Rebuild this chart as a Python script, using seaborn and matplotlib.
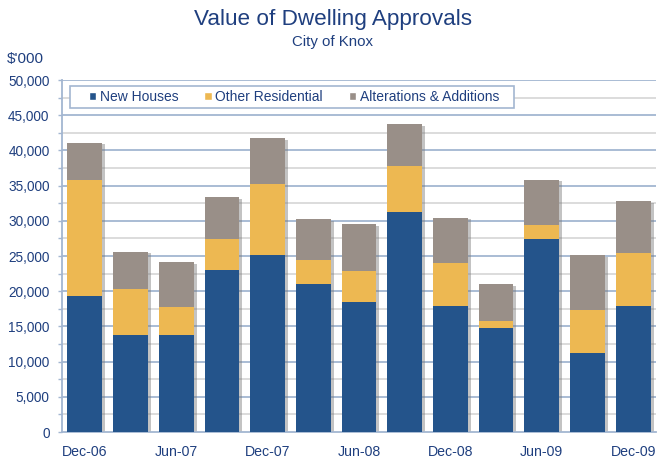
import numpy as np
import pandas as pd
import matplotlib
matplotlib.use("Agg")
import matplotlib.pyplot as plt
import matplotlib.patheffects as pe
from matplotlib.patches import Patch, Rectangle
import seaborn as sns

# Quarterly values, $'000
quarters = ["Dec-06", "Mar-07", "Jun-07", "Sep-07", "Dec-07", "Mar-08", "Jun-08",
            "Sep-08", "Dec-08", "Mar-09", "Jun-09", "Sep-09", "Dec-09"]
new_houses = [19350, 13800, 13800, 23050, 25200, 21050, 18400, 31250, 17850, 14800, 27450, 11200, 17950]
other_residential = [16500, 6500, 3950, 4350, 10000, 3450, 4500, 6550, 6150, 900, 2000, 6100, 7450]
alterations = [5250, 5300, 6400, 6000, 6550, 5750, 6600, 5950, 6450, 5300, 6400, 7800, 7400]
shown_labels = ["Dec-06", "Jun-07", "Dec-07", "Jun-08", "Dec-08", "Jun-09", "Dec-09"]

BLUE = "#24548B"
YELLOW = "#EDB852"
GREY = "#998F88"
TEXT = "#1F3F7F"
MAJOR_GRID = "#A3B6D1"
MINOR_GRID = "#D2D2D2"

df = pd.DataFrame({
    "quarter": quarters,
    "new": new_houses,
    "other": other_residential,
    "alt": alterations,
})
df["lvl2"] = df["new"] + df["other"]
df["total"] = df["lvl2"] + df["alt"]

sns.set_theme(style="white")
plt.rcParams["font.family"] = ["Liberation Sans", "DejaVu Sans"]

fig = plt.figure(figsize=(6.59, 4.58), dpi=100)
ax = fig.add_axes([62 / 659, 26 / 458, 594 / 659, 352 / 458])

# gridlines
for v in np.arange(2500, 50001, 2500):
    major = v % 5000 == 0
    ax.axhline(v, color=MAJOR_GRID if major else MINOR_GRID,
               lw=1.3 if major else 1.1, zorder=0)

# stacked bars drawn as cumulative layers
sns.barplot(data=df, x="quarter", y="total", color=GREY, saturation=1,
            width=0.76, linewidth=0, ax=ax, zorder=2)
shadow = [pe.SimplePatchShadow(offset=(2.2, -1.2), shadow_rgbFace="#7a7a7a", alpha=0.45),
          pe.Normal()]
for p in ax.patches:
    p.set_path_effects(shadow)
sns.barplot(data=df, x="quarter", y="lvl2", color=YELLOW, saturation=1,
            width=0.76, linewidth=0, ax=ax, zorder=3)
sns.barplot(data=df, x="quarter", y="new", color=BLUE, saturation=1,
            width=0.76, linewidth=0, ax=ax, zorder=4)

ax.set_ylim(0, 50000)
ax.set_xlim(-0.5, len(quarters) - 0.5)
ax.set_xlabel("")
ax.set_ylabel("")

ax.set_yticks(np.arange(0, 50001, 5000))
ax.set_yticklabels([f"{v:,}" for v in range(0, 50001, 5000)], fontsize=9.8, color=TEXT)
ax.set_yticks(np.arange(2500, 50000, 5000), minor=True)

pos = [quarters.index(q) for q in shown_labels]
ax.set_xticks(pos)
ax.set_xticklabels(shown_labels, fontsize=10.2, color=TEXT)
ax.set_xticks(np.arange(-0.5, len(quarters), 1.0), minor=True)
ax.tick_params(axis="x", which="major", length=0, pad=9)
ax.tick_params(axis="x", which="minor", length=4, color=MAJOR_GRID, width=1, direction="out")
ax.tick_params(axis="y", which="both", length=3, color=MAJOR_GRID, width=1, pad=6, left=True)

sns.despine(ax=ax, top=True, right=True)
for side in ["left", "bottom"]:
    ax.spines[side].set_color(MAJOR_GRID)
    ax.spines[side].set_linewidth(1.3)

# legend: white box with a thin border, entries centred inside
ax.add_patch(Rectangle((0.0135, 0.920), 0.7475, 0.063, transform=ax.transAxes,
                       facecolor="white", edgecolor=MAJOR_GRID, lw=1.2, zorder=9))
handles = [Patch(facecolor=BLUE, label="New Houses"),
           Patch(facecolor=YELLOW, label="Other Residential"),
           Patch(facecolor=GREY, label="Alterations & Additions")]
leg = ax.legend(handles=handles, loc="center", bbox_to_anchor=(0.3906, 0.9517),
                ncol=3, frameon=False, fontsize=10, handlelength=0.55,
                handleheight=0.55, handletextpad=0.25, columnspacing=1.85,
                borderpad=0, borderaxespad=0)
for t in leg.get_texts():
    t.set_color(TEXT)
leg.set_zorder(10)

fig.text(333 / 659, 1 - 20 / 458, "Value of Dwelling Approvals", ha="center", va="center",
         fontsize=16.2, color=TEXT)
fig.text(333 / 659, 1 - 42 / 458, "City of Knox", ha="center", va="center",
         fontsize=10.8, color=TEXT)
fig.text(7 / 659, 1 - 59 / 458, "$'000", ha="left", va="center", fontsize=11, color=TEXT)

fig.savefig("out.png", dpi=100, facecolor="white")
